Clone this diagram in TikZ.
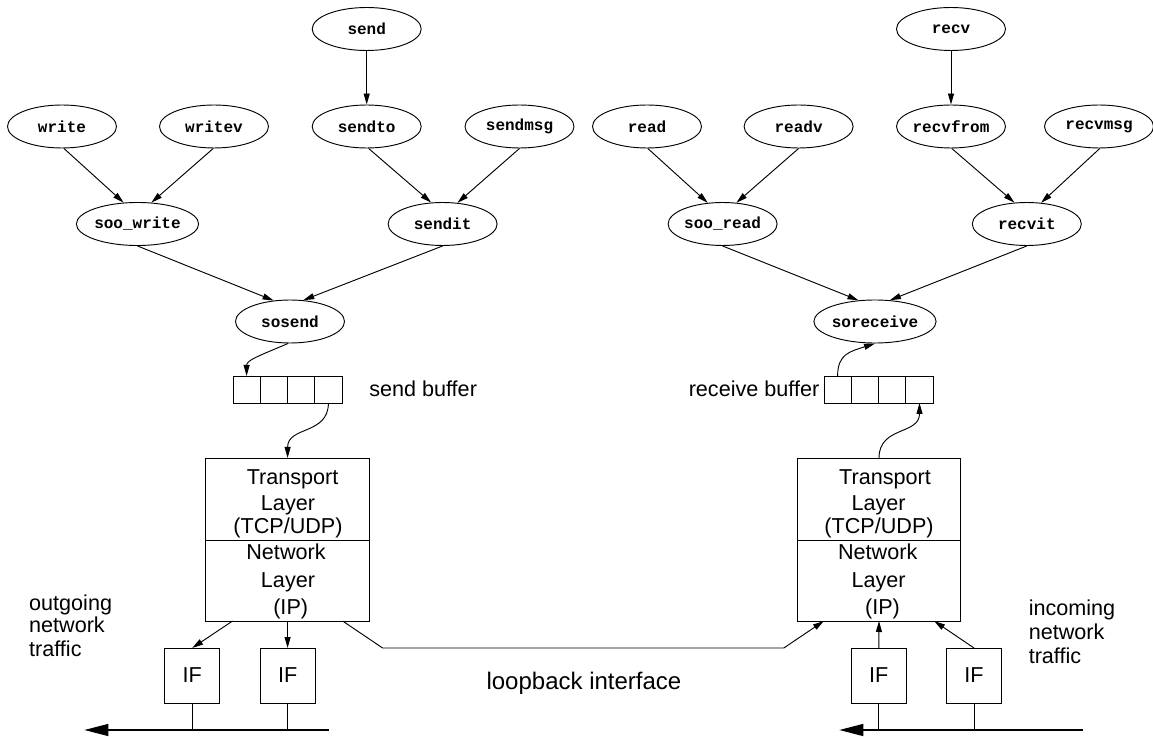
\documentclass[tikz,border=0pt]{standalone}
\usepackage{fontspec}
\setmainfont{Liberation Sans}
\newfontfamily\monof{Liberation Mono}
\usetikzlibrary{shapes.geometric,arrows.meta}
\begin{document}
\begin{tikzpicture}[x=0.75pt,y=-0.75pt,
  fn/.style={ellipse,draw,line width=0.7pt,minimum width=81.75pt,minimum height=32.25pt,inner sep=0pt,font=\monof\bfseries\fontsize{12}{14}\selectfont},
  arr/.style={-{Triangle[length=8.25pt,width=4.5pt]},line width=0.7pt},
  busarr/.style={-{Triangle[length=18pt,width=9pt]},line width=1pt},
  cell/.style={draw,rectangle,line width=0.7pt,minimum width=20.44pt,minimum height=20.25pt,inner sep=0pt,outer sep=0pt},
  lay/.style={draw,rectangle,line width=0.7pt,inner sep=0pt,outer sep=0pt},
  ifbox/.style={draw,rectangle,line width=0.7pt,minimum width=41.1pt,minimum height=41.25pt,inner sep=0pt,outer sep=0pt,font=\fontsize{16.2}{19}\selectfont},
  txt/.style={inner sep=0pt,anchor=base,font=\fontsize{16.2}{19}\selectfont},
  stem/.style={line width=0.7pt},
]
\useasboundingbox (0,0) rectangle (1153,737);

% ---------- send side ellipses ----------
\node[fn] (send)     at (366.7,29)    {send};
\node[fn] (write)    at (62,126.5)    {write};
\node[fn] (writev)   at (214,126.5)   {writev};
\node[fn] (sendto)   at (366.7,126.5) {sendto};
\node[fn] (sendmsg)  at (519.5,126.5) {sendmsg};
\node[fn] (soowrite) at (137.5,224)   {soo\_write};
\node[fn] (sendit)   at (442.6,224)   {sendit};
\node[fn] (sosend)   at (290,321.5)   {sosend};

% ---------- receive side ellipses ----------
\node[fn] (recv)      at (951,29)      {recv};
\node[fn] (read)      at (647,126.5)   {read};
\node[fn] (readv)     at (798.6,126.5) {readv};
\node[fn] (recvfrom)  at (951,126.5)   {recvfrom};
\node[fn] (recvmsg)   at (1099,126.5)  {recvmsg};
\node[fn] (sooread)   at (722.6,224)   {soo\_read};
\node[fn] (recvit)    at (1026.8,224)  {recvit};
\node[fn] (soreceive) at (875,321.5)   {soreceive};

% ---------- call arrows ----------
\draw[arr] (send) -- (sendto);
\draw[arr] (write.-85) -- (soowrite.123);
\draw[arr] (writev.-92) -- (soowrite.57);
\draw[arr] (sendto.-85) -- (sendit.118);
\draw[arr] (sendmsg.-90) -- (sendit.55);
\draw[arr] (soowrite.south) -- (sosend.128);
\draw[arr] (sendit.south) -- (sosend.58);

\draw[arr] (recv) -- (recvfrom);
\draw[arr] (read.-88) -- (sooread.125);
\draw[arr] (readv.-90) -- (sooread.57);
\draw[arr] (recvfrom.-88) -- (recvit.120);
\draw[arr] (recvmsg.-88) -- (recvit.56);
\draw[arr] (sooread.south) -- (soreceive.128);
\draw[arr] (recvit.south) -- (soreceive.55);

% ---------- buffers ----------
\node[cell] (sb1) at (246.6,389.5) {};
\node[cell] (sb2) at (273.9,389.5) {};
\node[cell] (sb3) at (301.1,389.5) {};
\node[cell] (sb4) at (328.4,389.5) {};
\node[txt,anchor=base west] (sbl) at (369,396.5) {send buffer};

\node[cell] (rb1) at (837.6,389.5) {};
\node[cell] (rb2) at (865,389.5) {};
\node[cell] (rb3) at (892.2,389.5) {};
\node[cell] (rb4) at (919.5,389.5) {};
\node[txt,anchor=base east] (rbl) at (819.5,396.5) {receive buffer};

% ---------- protocol boxes ----------
\node[lay,minimum width=123pt,minimum height=61.5pt]  (lt) at (287.6,499)   {};
\node[lay,minimum width=123pt,minimum height=60.75pt] (ln) at (287.6,580.5) {};
\node[txt] (lt1) at (292.6,485) {Transport};
\node[txt] (lt2) at (288,511)   {Layer};
\node[txt] (lt3) at (288,533.5) {(TCP/UDP)};
\node[txt] (ln1) at (286,560)   {Network};
\node[txt] (ln2) at (288,587)   {Layer};
\node[txt] (ln3) at (290.7,614) {(IP)};

\node[lay,minimum width=122.7pt,minimum height=61.5pt]  (rt) at (879,499)   {};
\node[lay,minimum width=122.7pt,minimum height=60.75pt] (rn) at (879,580.5) {};
\node[txt] (rt1) at (885,485)   {Transport};
\node[txt] (rt2) at (878.6,511) {Layer};
\node[txt] (rt3) at (879,533.5) {(TCP/UDP)};
\node[txt] (rn1) at (877.7,560) {Network};
\node[txt] (rn2) at (878.6,587) {Layer};
\node[txt] (rn3) at (882.5,614) {(IP)};

% ---------- buffer arrows ----------
\draw[arr] (sosend.-95) .. controls +(-28,12) and +(0,-16) .. (sb1.north);
\draw[arr] (sb4.south) .. controls +(0,32) and +(0,-32) .. (lt.north);
\draw[arr] (rb1.north) .. controls +(0,-22) and +(-25,8) .. (soreceive.south);
\draw[arr] (rt.north) .. controls +(0,-32) and +(0,32) .. (rb4.south);

% ---------- interfaces ----------
\node[ifbox] (if1)  at (192.2,675.5) {IF};
\node[ifbox] (if2)  at (287.6,675.5) {IF};
\node[ifbox] (rif1) at (878.8,675.5) {IF};
\node[ifbox] (rif2) at (974,675.5)   {IF};

\draw[arr] ([xshift=20.25pt]ln.south west) -- (if1.north);
\draw[arr] (ln.south) -- (if2.north);
\coordinate (lb1) at (382.6,648);
\coordinate (lb2) at (783.8,648);
\draw[arr] ([xshift=-20.25pt]ln.south east) -- (lb1) -- (lb2) -- ([xshift=20pt]rn.south west);
\draw[arr] (rif1.north) -- (rn.south);
\draw[arr] (rif2.north) -- ([xshift=-20pt]rn.south east);

% ---------- buses ----------
\coordinate (lbE) at (328.5,730);
\coordinate (lbW) at (84.4,730);
\draw[busarr] (lbE) -- (lbW);
\draw[stem] (if1.south) -- (if1.south |- lbE);
\draw[stem] (if2.south) -- (if2.south |- lbE);

\coordinate (rbE) at (1083.3,730);
\coordinate (rbW) at (839.3,730);
\draw[busarr] (rbE) -- (rbW);
\draw[stem] (rif1.south) -- (rif1.south |- rbE);
\draw[stem] (rif2.south) -- (rif2.south |- rbE);

% ---------- labels ----------
\node[txt,anchor=base west] (og1) at (28.9,610) {outgoing};
\node[txt,anchor=base west] (og2) at (28.9,632.5) {network};
\node[txt,anchor=base west] (og3) at (28.9,656) {traffic};
\node[txt,anchor=base west] (ic1) at (1028.5,615) {incoming};
\node[txt,anchor=base west] (ic2) at (1028.5,639) {network};
\node[txt,anchor=base west] (ic3) at (1028.5,663) {traffic};
\node[txt,anchor=base west,font=\fontsize{18}{21}\selectfont] (lbl) at (486.3,689) {loopback interface};
\end{tikzpicture}
\end{document}
